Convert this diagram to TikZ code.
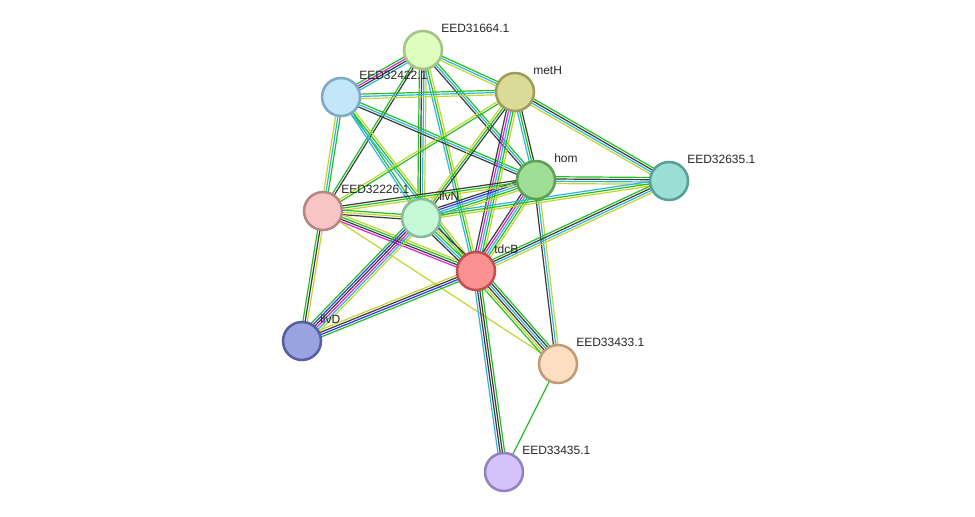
\documentclass[tikz,border=0pt]{standalone}
\usepackage{fontspec}
\setmainfont{Liberation Sans}
\usetikzlibrary{calc,backgrounds}
\definecolor{StrYel}{HTML}{C4D42E}
\definecolor{StrGrn}{HTML}{1FC01F}
\definecolor{StrCyn}{HTML}{2EB6DF}
\definecolor{StrBlk}{HTML}{3A3A3A}
\definecolor{StrMag}{HTML}{E020E0}
\definecolor{StrBlu}{HTML}{3030FF}
\newcommand{\sedge}[3]{%
  \foreach \col [count=\i] in {#3} {\xdef\nstr{\i}}
  \foreach \col [count=\i] in {#3} {
    \pgfmathsetmacro{\off}{(\i-(\nstr+1)/2)*1.7}
    \draw[\col, strand] ($(#1.center)!\off pt!90:(#2.center)$) -- ($(#2.center)!\off pt!-90:(#1.center)$);
  }%
}
\begin{document}
\begin{tikzpicture}[x=0.75pt, y=-0.75pt,
    prot/.style={circle, minimum size=28.5pt, inner sep=0pt, line width=1.9pt},
    lbl/.style={anchor=west, inner sep=0pt, font=\fontsize{9}{11}\selectfont, text=black!85},
    strand/.style={line width=0.9pt}]
  \useasboundingbox (0,0) rectangle (975,517);
  \node[prot, draw={rgb,255:red,162;green,196;blue,132}, fill={rgb,255:red,224;green,253;blue,192}] (a1664) at (423,50) {};
  \node[prot, draw={rgb,255:red,127;green,169;blue,198}, fill={rgb,255:red,194;green,230;blue,250}] (a2422) at (341,97) {};
  \node[prot, draw={rgb,255:red,158;green,157;blue,91}, fill={rgb,255:red,219;green,218;blue,150}] (meth) at (515,92) {};
  \node[prot, draw={rgb,255:red,95;green,160;blue,86}, fill={rgb,255:red,158;green,222;blue,148}] (hom) at (536,180) {};
  \node[prot, draw={rgb,255:red,90;green,158;blue,149}, fill={rgb,255:red,154;green,223;blue,214}] (a2635) at (669,181) {};
  \node[prot, draw={rgb,255:red,185;green,132;blue,132}, fill={rgb,255:red,247;green,197;blue,197}] (a2226) at (323,211) {};
  \node[prot, draw={rgb,255:red,134;green,188;blue,152}, fill={rgb,255:red,197;green,249;blue,215}] (ilvn) at (421,218) {};
  \node[prot, draw={rgb,255:red,192;green,80;blue,80}, fill={rgb,255:red,251;green,146;blue,146}] (tdcb) at (476,271) {};
  \node[prot, draw={rgb,255:red,86;green,96;blue,160}, fill={rgb,255:red,152;green,163;blue,224}] (ilvd) at (302,341) {};
  \node[prot, draw={rgb,255:red,192;green,156;blue,124}, fill={rgb,255:red,253;green,222;blue,192}] (a3433) at (558,364) {};
  \node[prot, draw={rgb,255:red,149;green,128;blue,192}, fill={rgb,255:red,211;green,195;blue,250}] (a3435) at (504,472) {};

  \node[lbl] (l1664) at ([shift={(18,-22)}]a1664.center) {EED31664.1};
  \node[lbl] (l2422) at ([shift={(18,-22)}]a2422.center) {EED32422.1};
  \node[lbl] (lmeth) at ([shift={(18,-22)}]meth.center) {metH};
  \node[lbl] (lhom) at ([shift={(18,-22)}]hom.center) {hom};
  \node[lbl] (l2635) at ([shift={(18,-22)}]a2635.center) {EED32635.1};
  \node[lbl] (l2226) at ([shift={(18,-22)}]a2226.center) {EED32226.1};
  \node[lbl] (lilvn) at ([shift={(18,-22)}]ilvn.center) {ilvN};
  \node[lbl] (ltdcb) at ([shift={(18,-22)}]tdcb.center) {tdcB};
  \node[lbl] (lilvd) at ([shift={(18,-22)}]ilvd.center) {ilvD};
  \node[lbl] (l3433) at ([shift={(18,-22)}]a3433.center) {EED33433.1};
  \node[lbl] (l3435) at ([shift={(18,-22)}]a3435.center) {EED33435.1};

  \begin{scope}[on background layer]
    \sedge{a1664}{a2422}{StrGrn,StrMag,StrBlk,StrCyn}
    \sedge{a1664}{meth}{StrYel,StrCyn,StrGrn}
    \sedge{a1664}{a2226}{StrGrn,StrBlk}
    \sedge{a1664}{ilvn}{StrGrn,StrBlk,StrCyn,StrYel}
    \sedge{a1664}{tdcb}{StrCyn,StrGrn,StrYel}
    \sedge{a1664}{hom}{StrBlk,StrCyn,StrGrn}
    \sedge{a2422}{meth}{StrYel,StrCyn,StrGrn}
    \sedge{a2422}{hom}{StrBlk,StrCyn,StrGrn}
    \sedge{a2422}{a2226}{StrYel,StrCyn,StrGrn}
    \sedge{a2422}{ilvn}{StrCyn,StrGrn}
    \sedge{a2422}{tdcb}{StrCyn,StrGrn,StrYel}
    \sedge{meth}{a2226}{StrYel,StrGrn}
    \sedge{meth}{ilvn}{StrYel,StrGrn,StrBlk}
    \sedge{meth}{hom}{StrCyn,StrGrn,StrBlk}
    \sedge{meth}{tdcb}{StrBlk,StrMag,StrCyn,StrGrn,StrYel}
    \sedge{meth}{a2635}{StrYel,StrCyn,StrBlk,StrGrn}
    \sedge{hom}{a2635}{StrYel,StrCyn,StrBlk,StrGrn}
    \sedge{hom}{ilvn}{StrBlk,StrBlu,StrCyn,StrGrn,StrYel}
    \sedge{hom}{tdcb}{StrBlk,StrMag,StrCyn,StrGrn,StrYel}
    \sedge{hom}{a2226}{StrBlk,StrGrn,StrYel}
    \sedge{hom}{a3433}{StrBlk,StrCyn,StrYel}
    \sedge{a2635}{ilvn}{StrCyn,StrGrn,StrYel}
    \sedge{a2635}{tdcb}{StrGrn,StrBlk,StrCyn,StrYel}
    \sedge{a2226}{ilvn}{StrBlk,StrYel,StrGrn}
    \sedge{a2226}{tdcb}{StrMag,StrBlk,StrGrn,StrYel}
    \sedge{a2226}{ilvd}{StrGrn,StrBlk,StrYel}
    \sedge{a2226}{a3433}{StrYel}
    \sedge{ilvn}{tdcb}{StrBlk,StrCyn,StrGrn,StrYel,StrBlk}
    \sedge{ilvn}{ilvd}{StrGrn,StrBlu,StrBlk,StrMag,StrCyn,StrYel}
    \sedge{tdcb}{ilvd}{StrYel,StrBlk,StrBlu,StrGrn}
    \sedge{tdcb}{a3433}{StrGrn,StrYel,StrBlk,StrCyn,StrBlk,StrGrn}
    \sedge{tdcb}{a3435}{StrCyn,StrBlk,StrBlk,StrGrn}
    \sedge{a3433}{a3435}{StrGrn}
  \end{scope}
\end{tikzpicture}
\end{document}
